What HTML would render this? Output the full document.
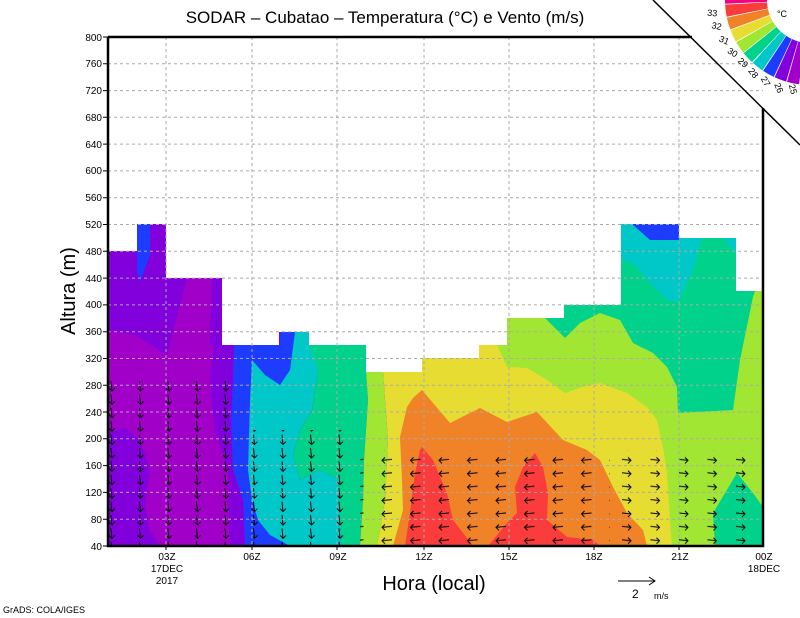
<!DOCTYPE html>
<html><head><meta charset="utf-8"><style>
html,body{margin:0;padding:0;background:#fff}
svg{display:block}
text{font-family:"Liberation Sans",sans-serif;fill:#000}
</style></head><body>
<svg width="800" height="618" viewBox="0 0 800 618" xmlns="http://www.w3.org/2000/svg">
<defs>
<clipPath id="dc"><polygon points="108,251 137,251 137,224 166,224 166,278 222,278 222,345 279,345 279,332 309,332 309,345 366,345 366,372 422,372 422,358 479,358 479,345 507,345 507,318 564,318 564,305 621,305 621,224 679,224 679,238 736,238 736,291 763,291 763,546 108,546"/></clipPath>
<pattern id="pd" x="108" y="380" width="28.5" height="13.4" patternUnits="userSpaceOnUse"><path d="M3 1 L4 11 M1 8 L4 11 L7 8" stroke="#000" fill="none" stroke-width="1"/></pattern>
<pattern id="pl" x="380" y="440" width="28.5" height="13.4" patternUnits="userSpaceOnUse"><path d="M12 6 L2 7 M5 4 L2 7 L5 10" stroke="#000" fill="none" stroke-width="1"/></pattern>
<pattern id="pr" x="620" y="440" width="28.5" height="13.4" patternUnits="userSpaceOnUse"><path d="M2 6 L11 7 M8 4 L11 7 L8 10" stroke="#000" fill="none" stroke-width="1"/></pattern>
</defs>
<g clip-path="url(#dc)">
<rect x="108" y="220" width="660" height="330" fill="#8200dc"/>
<polygon fill="#a000c8" points="108,330 135,335 167,355 187,278 212,278 210,345 214,345 210,380 215,430 228,470 230,546 160,546 150,530 145,505 150,470 140,440 125,428 108,432"/>
<polygon fill="#1e3cff" points="137,224 150,224 150,255 140,282 137,270"/>
<polygon fill="#1e3cff" points="234,345 280,345 280,332 295,332 290,370 282,385 275,385 265,375 252,360 250,400 248,470 252,500 258,520 270,535 290,546 245,546 243,500 233,470 231,420 233,380"/>
<polygon fill="#00c8c8" points="252,360 265,375 280,385 290,370 295,332 309,332 309,345 320,345 318,370 312,410 300,430 293,455 300,480 318,470 338,478 340,520 342,546 290,546 270,535 258,520 252,500 248,470 250,400"/>
<polygon fill="#00d28c" points="309,345 366,345 366,372 368,400 364,460 363,500 360,546 342,546 340,520 338,478 318,470 300,480 293,455 300,430 312,410 318,370"/>
<polygon fill="#a0e632" points="366,372 383,372 385,400 388,440 385,500 380,530 377,546 360,546 363,500 364,460 368,400"/>
<polygon fill="#a0e632" points="479,345 507,345 507,318 564,318 564,305 621,305 621,224 679,224 679,238 736,238 736,291 763,291 763,546 600,546 479,400"/>
<polygon fill="#e6dc32" points="383,372 422,372 422,358 479,358 479,345 497,345 507,367 527,368 547,380 565,393 582,387 600,383 627,393 647,407 657,420 663,447 667,473 670,520 672,546 377,546 380,530 385,500 388,440 385,400"/>
<polygon fill="#00d28c" points="545,318 564,318 564,305 621,305 621,224 679,224 679,238 736,238 736,291 755,291 753,297 740,360 733,410 678,413 677,387 667,367 653,353 633,343 620,320 600,313 580,323 565,338"/>
<polygon fill="#00d28c" points="713,513 737,473 753,493 763,507 763,546 715,546"/>
<polygon fill="#00c8c8" points="621,224 679,224 679,238 702,238 693,270 678,302 667,300 647,280 633,263 621,260"/>
<polygon fill="#00c8c8" points="723,238 736,238 736,253"/>
<polygon fill="#1e3cff" points="632,224 679,224 679,240 650,240"/>
<polygon fill="#f08228" points="393,546 403,510 402,480 400,437 407,407 413,398 422,390 450,423 480,408 507,422 537,412 563,440 587,450 600,460 613,487 627,513 643,530 647,546"/>
<polygon fill="#fa3c3c" points="405,546 410,513 415,473 420,450 422,447 433,460 447,493 453,520 473,546"/>
<polygon fill="#fa3c3c" points="488,546 507,523 517,513 515,487 523,467 535,453 543,467 548,493 547,520 567,537 593,540 600,546"/>
<rect x="108" y="380" width="142" height="166" fill="url(#pd)"/>
<rect x="250" y="430" width="110" height="116" fill="url(#pd)"/>
<rect x="360" y="450" width="250" height="96" fill="url(#pl)"/>
<rect x="610" y="450" width="153" height="96" fill="url(#pr)"/>
</g>
<g stroke="#aaa" stroke-width="1" stroke-dasharray="3,3">
<path d="M166 37V546M252 37V546M337 37V546M424 37V546M509 37V546M594 37V546M679 37V546"/>
<path d="M108 519.2H763M108 492.4H763M108 465.6H763M108 438.8H763M108 412H763M108 385.2H763M108 358.5H763M108 331.7H763M108 304.9H763M108 278.1H763M108 251.3H763M108 224.5H763M108 197.7H763M108 170.9H763M108 144.1H763M108 117.3H763M108 90.6H763M108 63.8H763"/>
</g>
<g stroke="#000" fill="none">
<path d="M108 37V546H763V108" stroke-width="2.5"/>
<path d="M108 37H692" stroke-width="2.5"/>
<path d="M653 0L800 145" stroke-width="1.5"/>
<path d="M103 546H108M103 519.2H108M103 492.4H108M103 465.6H108M103 438.8H108M103 412H108M103 385.2H108M103 358.5H108M103 331.7H108M103 304.9H108M103 278.1H108M103 251.3H108M103 224.5H108M103 197.7H108M103 170.9H108M103 144.1H108M103 117.3H108M103 90.6H108M103 63.8H108M103 37H108" stroke-width="1"/>
<path d="M166 546V550M252 546V550M337 546V550M424 546V550M509 546V550M594 546V550M679 546V550" stroke-width="1"/>
<path d="M618 581H655M649 577L655 581L649 585" stroke-width="1"/>
</g>
<g font-size="10" text-anchor="end">
<text x="102" y="550">40</text><text x="102" y="523">80</text><text x="102" y="496">120</text><text x="102" y="469">160</text><text x="102" y="442">200</text><text x="102" y="416">240</text><text x="102" y="389">280</text><text x="102" y="362">320</text><text x="102" y="335">360</text><text x="102" y="308">400</text><text x="102" y="282">440</text><text x="102" y="255">480</text><text x="102" y="228">520</text><text x="102" y="201">560</text><text x="102" y="174">600</text><text x="102" y="148">640</text><text x="102" y="121">680</text><text x="102" y="94">720</text><text x="102" y="67">760</text><text x="102" y="41">800</text>
</g>
<g font-size="10" text-anchor="middle">
<text x="167" y="560">03Z</text><text x="167" y="572">17DEC</text><text x="167" y="584">2017</text>
<text x="252" y="560">06Z</text><text x="338" y="560">09Z</text><text x="424" y="560">12Z</text><text x="509" y="560">15Z</text><text x="594" y="560">18Z</text><text x="680" y="560">21Z</text>
<text x="764" y="560">00Z</text><text x="764" y="572">18DEC</text>
</g>
<text x="434" y="590" font-size="20" text-anchor="middle">Hora (local)</text>
<text x="75" y="291" font-size="20" text-anchor="middle" transform="rotate(-90 75 291)">Altura (m)</text>
<text x="385" y="23" font-size="17" text-anchor="middle">SODAR – Cubatao – Temperatura (°C) e Vento (m/s)</text>
<text x="632" y="598" font-size="12">2</text><text x="654" y="599" font-size="9">m/s</text>
<text x="3" y="613" font-size="9">GrADS: COLA/IGES</text>
<g fill="none" stroke-width="42">
<circle cx="810" cy="0" r="64" stroke="#f00082" stroke-dasharray="9.3 500" transform="rotate(177.5 810 0)"/>
<circle cx="810" cy="0" r="64" stroke="#fa3c3c" stroke-dasharray="9.3 500" transform="rotate(168.6 810 0)"/>
<circle cx="810" cy="0" r="64" stroke="#f08228" stroke-dasharray="9.3 500" transform="rotate(159.7 810 0)"/>
<circle cx="810" cy="0" r="64" stroke="#e6dc32" stroke-dasharray="9.3 500" transform="rotate(150.8 810 0)"/>
<circle cx="810" cy="0" r="64" stroke="#a0e632" stroke-dasharray="9.3 500" transform="rotate(141.9 810 0)"/>
<circle cx="810" cy="0" r="64" stroke="#00d28c" stroke-dasharray="9.3 500" transform="rotate(133 810 0)"/>
<circle cx="810" cy="0" r="64" stroke="#00c8c8" stroke-dasharray="9.3 500" transform="rotate(124.1 810 0)"/>
<circle cx="810" cy="0" r="64" stroke="#1e3cff" stroke-dasharray="9.3 500" transform="rotate(115.2 810 0)"/>
<circle cx="810" cy="0" r="64" stroke="#8200dc" stroke-dasharray="9.3 500" transform="rotate(106.3 810 0)"/>
<circle cx="810" cy="0" r="64" stroke="#a000c8" stroke-dasharray="9.3 500" transform="rotate(97.4 810 0)"/>
</g>
<g font-size="9" text-anchor="middle">
<text transform="translate(712,16) rotate(5)">33</text>
<text transform="translate(716,29) rotate(12)">32</text>
<text transform="translate(723,43) rotate(22)">31</text>
<text transform="translate(731,55) rotate(32)">30</text>
<text transform="translate(741,65) rotate(42)">29</text>
<text transform="translate(751,75) rotate(52)">28</text>
<text transform="translate(763,83) rotate(60)">27</text>
<text transform="translate(776,89) rotate(68)">26</text>
<text transform="translate(790,90) rotate(75)">25</text>
<text x="782" y="17">°C</text>
</g>
</svg>
</body></html>
